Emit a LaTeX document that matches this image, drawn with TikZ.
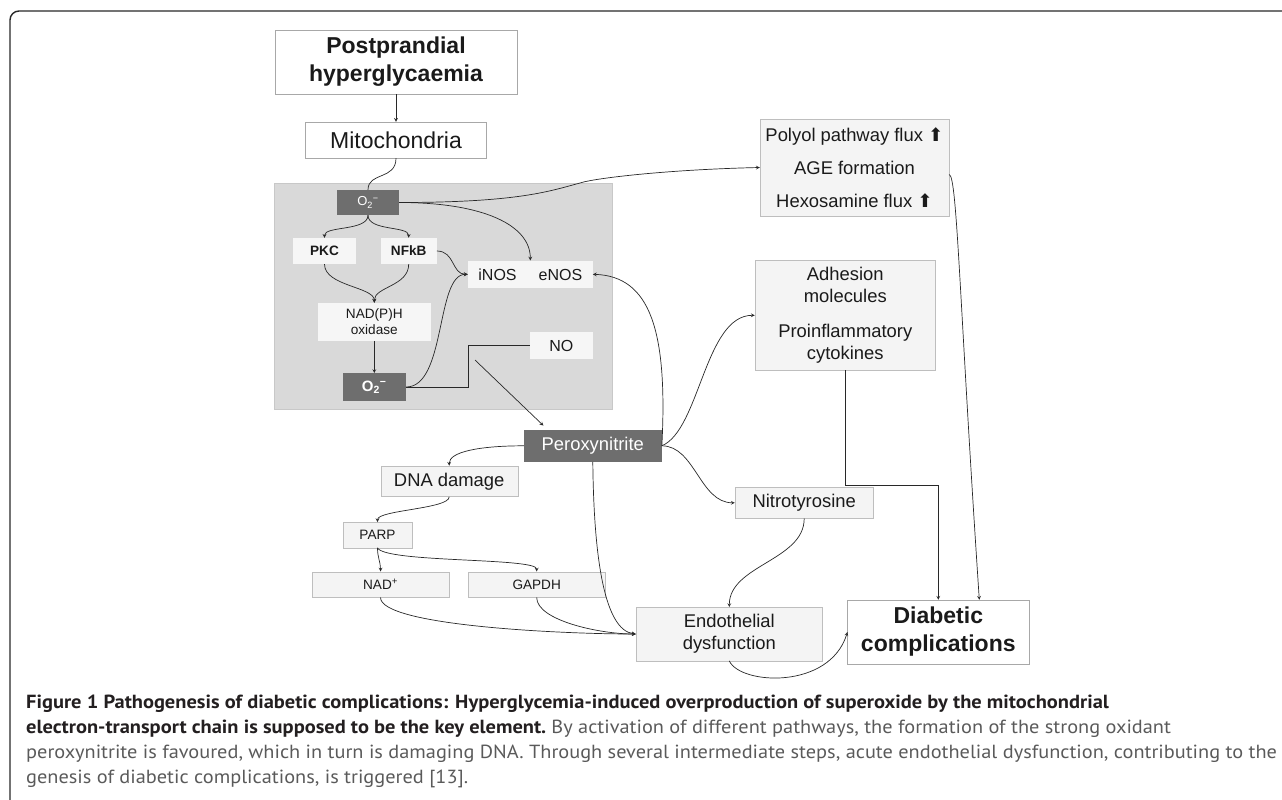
\documentclass[tikz,border=0pt]{standalone}
\usepackage{fontspec}
\setmainfont{Liberation Sans}
\newfontfamily\capfont[FakeStretch=1.07]{PT Sans}
\newfontfamily\capboldfont[FakeStretch=1.076]{PT Sans}
\newfontfamily\symfont{DejaVu Sans}
\definecolor{txt}{RGB}{26,26,26}
\definecolor{ln}{RGB}{40,40,40}
\definecolor{bdr}{RGB}{168,168,168}
\definecolor{pbdr}{RGB}{190,190,190}
\definecolor{palefill}{RGB}{244,244,244}
\definecolor{inbox}{RGB}{246,246,246}
\definecolor{dk}{RGB}{110,110,110}
\definecolor{regionfill}{RGB}{217,217,217}
\definecolor{regionedge}{RGB}{200,200,200}
\definecolor{capdark}{RGB}{35,31,32}
\definecolor{capgray}{RGB}{90,90,90}
\newcommand\fluxup{{\symfont ⬆}}

\begin{document}
\begin{tikzpicture}[x=1pt,y=-1pt,>=stealth,
    every node/.style={inner sep=0pt,align=center,text=txt},
    plain/.style={draw=bdr,fill=white},
    pale/.style={draw=pbdr,fill=palefill},
    inner/.style={fill=inbox},
    dark/.style={fill=dk,text=white},
    link/.style={draw=ln,line width=0.7pt},
    bigb/.style={font=\fontsize{23}{28}\selectfont\bfseries},
    bigr/.style={font=\fontsize{23}{28}\selectfont},
    std/.style={font=\fontsize{18.4}{22}\selectfont},
    mid/.style={font=\fontsize{16}{19}\selectfont},
    tiny/.style={font=\fontsize{13.6}{16.6}\selectfont},
    tinyb/.style={font=\fontsize{13.6}{16.6}\selectfont\bfseries},
    capb/.style={font=\capboldfont\fontsize{19}{25}\selectfont\bfseries,text=capdark},
    capr/.style={font=\capfont\fontsize{19}{25}\selectfont,text=capgray}]
    \useasboundingbox (0,0) rectangle (1282,800);
    \draw[line width=1.4pt,draw=ln,rounded corners=9pt] (1282,11) -- (10,11) -- (10,800);
    \filldraw[fill=regionfill,draw=regionedge] (274,183) rectangle (612,409);

    \node[plain,bigb,minimum width=242,minimum height=64] (post) at (396,62) {Postprandial\\hyperglycaemia};
    \node[plain,bigr,minimum width=181,minimum height=36] (mito) at (396,140) {Mitochondria};
    \node[dark,font=\fontsize{13}{15}\selectfont,minimum width=62,minimum height=25] (oxa) at (368,202.5) {O\textsubscript{2}\textsuperscript{−}};
    \node[inner,tinyb,minimum width=63,minimum height=26] (pkc) at (324.5,251) {PKC};
    \node[inner,tinyb,minimum width=56,minimum height=26] (nfkb) at (408.7,251) {NFkB};
    \node[inner,mid,minimum width=124.7,minimum height=27.3] (nos) at (530.3,274.3) {iNOS\hspace{22pt}eNOS};
    \node[inner,tiny,minimum width=112.7,minimum height=37.7] (nadph) at (374.3,321.8) {NAD(P)H\\oxidase};
    \node[dark,font=\fontsize{15}{18}\selectfont\bfseries,minimum width=63.3,minimum height=27.4] (oxb) at (374.3,387) {O\textsubscript{2}\textsuperscript{−}};
    \node[inner,mid,minimum width=62.7,minimum height=27.6] (no) at (561.3,345.5) {NO};
    \node[pale,std,minimum width=189,minimum height=97] (polyol) at (854.5,167.5) {Polyol pathway flux \fluxup\\[11pt]AGE formation\\[11pt]Hexosamine flux \fluxup};
    \node[pale,std,minimum width=180.7,minimum height=109.3] (adh) at (845.3,315.3) {Adhesion\\molecules\\[13pt]Proinflammatory\\cytokines};
    \node[dark,std,minimum width=137.7,minimum height=31.7] (perox) at (592.8,445.8) {Peroxynitrite};
    \node[pale,std,minimum width=137,minimum height=30.7] (dna) at (449.2,481.3) {DNA damage};
    \node[pale,std,minimum width=138.3,minimum height=31] (nitro) at (804.2,502.8) {Nitrotyrosine};
    \node[pale,tiny,minimum width=68.4,minimum height=25.4] (parp) at (377.5,535) {PARP};
    \node[pale,tiny,minimum width=137.6,minimum height=25.6] (nad) at (380.5,584.5) {NAD\textsuperscript{+}};
    \node[pale,tiny,minimum width=136.7,minimum height=25.6] (gapdh) at (536.7,584.5) {GAPDH};
    \node[pale,std,minimum width=186.7,minimum height=53.4] (endo) at (729.3,634) {Endothelial\\dysfunction};
    \node[plain,bigb,minimum width=181.3,minimum height=64] (diab) at (938.3,632) {Diabetic\\complications};

    \coordinate (bend) at (580,183);
    \coordinate (split) at (475,360);
    \draw[link,->] (post) -- (mito);
    \draw[link] (mito.south) .. controls +(0,22) and +(0,-18) .. (oxa.north);
    \draw[link,->] (oxa.south) .. controls +(0,16) and +(0,-12) .. (pkc.north);
    \draw[link,->] (oxa.south) .. controls +(0,16) and +(0,-12) .. (nfkb.north);
    \draw[link,->] (oxa.east) .. controls +(85,0) and +(0,-35) .. (nos.north);
    \draw[link,->] (oxa.east) .. controls +(120,0) and +(-30,8) .. (bend) .. controls +(15,-5) and +(-90,2) .. (polyol.west);
    \draw[link,->] (nfkb.east) .. controls +(18,0) and +(-16,0) .. (nos.west);
    \draw[link,->] (pkc.south) .. controls +(0,22) and +(0,-16) .. (nadph.north);
    \draw[link,->] (nfkb.south) .. controls +(0,22) and +(0,-16) .. (nadph.north);
    \draw[link,->] (nadph) -- (oxb);
    \draw[link,->] (oxb.east) .. controls +(40,0) and +(-32,0) .. (nos.west);
    \draw[link] (oxb.east) -- ++(62,0) |- (no.west);
    \draw[link,->,shorten >=6pt] (split) -- ([xshift=24pt]perox.north west);
    \draw[link,->] (perox.east) .. controls +(6,-116) and +(57,2) .. (nos.east);
    \draw[link,->] (perox.east) .. controls +(38,-16) and +(-50,0) .. (adh.west);
    \draw[link,->] (perox.east) .. controls +(33,0) and +(-35,0) .. (nitro.west);
    \draw[link,->] (perox.west) .. controls +(-44,0) and +(0,-14) .. (dna.north);
    \draw[link,->] (dna.south) .. controls +(0,12) and +(0,-12) .. (parp.north);
    \draw[link,->] (parp.south) .. controls +(0,10) and +(0,-10) .. (nad.north);
    \draw[link,->] (parp.south) .. controls +(8,15) and +(0,-14) .. (gapdh.north);
    \draw[link,->] (nad.south) .. controls +(0,28) and +(-76,0) .. (endo.west);
    \draw[link,->] (gapdh.south) .. controls +(0,23) and +(-36,0) .. (endo.west);
    \draw[link,->] (perox.south) .. controls +(1,98) and +(-31,-4) .. (endo.west);
    \draw[link,->] (nitro.south) .. controls +(0,42) and +(0,-42) .. (endo.north);
    \draw[link,->] (adh.south) -- ++(0,115) -| (diab.north);
    \draw[link,->] ([yshift=-7pt]polyol.east) .. controls +(8,2) and +(-20,-300) .. ([xshift=41pt]diab.north);
    \draw[link,->] (endo.south) .. controls +(11,24) and +(-18,58) .. (diab.west);

    \node[capb,anchor=base west] (cap1) at (26,708) {Figure 1 Pathogenesis of diabetic complications: Hyperglycemia-induced overproduction of superoxide by the mitochondrial};
    \node[capb,anchor=base west] (cap2) at (26,733) {electron-transport chain is supposed to be the key element.\ {\capfont\mdseries\color{capgray}By activation of different pathways, the formation of the strong oxidant}};
    \node[capr,anchor=base west] (cap3) at (26,758) {peroxynitrite is favoured, which in turn is damaging DNA. Through several intermediate steps, acute endothelial dysfunction, contributing to the};
    \node[capr,anchor=base west] (cap4) at (26,783) {genesis of diabetic complications, is triggered [13].};
\end{tikzpicture}
\end{document}
